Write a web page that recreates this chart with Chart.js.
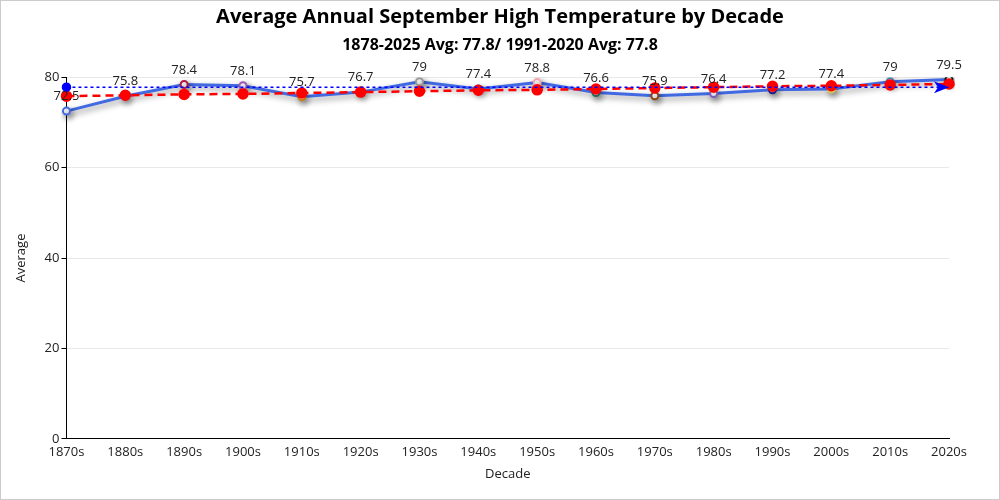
<!DOCTYPE html>
<html>
<head>
<meta charset="utf-8">
<script src="https://cdn.jsdelivr.net/npm/chart.js@4"></script>
<style>
html,body{margin:0;padding:0;background:#fff;}
#wrap{position:absolute;left:0;top:0;width:998px;height:498px;border:1px solid #ccc;}
canvas{display:block;}
</style>
</head>
<body>
<div id="wrap"><canvas id="c" width="998" height="498"></canvas></div>
<script>
const decades = ['1870s','1880s','1890s','1900s','1910s','1920s','1930s','1940s','1950s','1960s','1970s','1980s','1990s','2000s','2010s','2020s'];
const averages = [72.5, 75.8, 78.4, 78.1, 75.7, 76.7, 79, 77.4, 78.8, 76.6, 75.9, 76.4, 77.2, 77.4, 79, 79.5];
const trendValues = [75.8, 76.0, 76.2, 76.3, 76.5, 76.7, 76.9, 77.1, 77.2, 77.4, 77.6, 77.8, 78.0, 78.1, 78.3, 78.5];
const longTermAvg = [77.8, 77.8, 77.8, 77.8, 77.8, 77.8, 77.8, 77.8, 77.8, 77.8, 77.8, 77.8, 77.8, 77.8, 77.8, 77.8];
const pointColors = ['#4169e1','#2e8b57','#b0183d','#9b59b6','#cc7a00','#556b2f','#999999','#2aa198','#f4a6b0','#1d6b5a','#8b4513','#7b5cc4','#1a1a8c','#d4c94a','#4682b4','#111111'];
const yTicks = [0, 20, 40, 60, 80];

const FONT = "'Open Sans','Noto Sans',sans-serif";

const shadowPlugin = {
  id: 'shadow',
  beforeDatasetDraw(chart, args) {
    if (args.index === 0) {
      const ctx = chart.ctx;
      ctx.save();
      ctx.shadowColor = 'rgba(0,0,0,0.45)';
      ctx.shadowBlur = 6;
      ctx.shadowOffsetX = 2;
      ctx.shadowOffsetY = 3;
    }
  },
  afterDatasetDraw(chart, args) {
    if (args.index === 0) chart.ctx.restore();
  }
};

const labelPlugin = {
  id: 'labels',
  afterDatasetsDraw(chart) {
    const ctx = chart.ctx;
    const am = chart.getDatasetMeta(2).data;
    const last = am[am.length - 1];
    ctx.save();
    ctx.fillStyle = '#0000ff';
    ctx.beginPath();
    ctx.moveTo(last.x, last.y);
    ctx.lineTo(last.x - 15, last.y - 6);
    ctx.lineTo(last.x - 11, last.y);
    ctx.lineTo(last.x - 15, last.y + 6);
    ctx.closePath();
    ctx.fill();
    ctx.restore();

    const meta = chart.getDatasetMeta(0);
    ctx.save();
    ctx.font = "13px " + FONT;
    ctx.fillStyle = '#222';
    ctx.textAlign = 'center';
    ctx.textBaseline = 'bottom';
    meta.data.forEach((pt, i) => {
      ctx.fillText(String(averages[i]), pt.x, pt.y - 8);
    });
    ctx.restore();
  }
};

const avgRadius = longTermAvg.map((v, i) => i === 0 ? 4 : 0);

new Chart(document.getElementById('c'), {
  type: 'line',
  data: {
    labels: decades,
    datasets: [
      {
        label: 'Average',
        data: averages,
        borderColor: '#4169e1',
        borderWidth: 3,
        pointBackgroundColor: '#ffffff',
        pointBorderColor: pointColors,
        pointBorderWidth: 2,
        pointRadius: 3.5,
        tension: 0,
        order: 3
      },
      {
        label: 'Trend',
        data: trendValues,
        borderColor: '#ff0000',
        borderWidth: 2.5,
        borderDash: [8, 5],
        pointBackgroundColor: '#ff0000',
        pointBorderColor: '#ff0000',
        pointRadius: 4.5,
        tension: 0,
        order: 2
      },
      {
        label: 'Long-term Avg',
        data: longTermAvg,
        borderColor: '#0000ff',
        borderWidth: 1.5,
        borderDash: [3, 3],
        pointRadius: avgRadius,
        pointBackgroundColor: '#0000ff',
        pointBorderColor: '#0000ff',
        tension: 0,
        order: 1
      }
    ]
  },
  options: {
    responsive: false,
    animation: false,
    layout: { padding: { left: 8, right: 8, top: 0, bottom: 13 } },
    plugins: {
      legend: { display: false },
      tooltip: { enabled: false },
      title: {
        display: true,
        text: 'Average Annual September High Temperature by Decade',
        font: { family: FONT, size: 20, weight: 'bold' },
        color: '#000',
        padding: { top: 4, bottom: 4 }
      },
      subtitle: {
        display: true,
        text: '1878-2025 Avg: 77.8/ 1991-2020 Avg: 77.8',
        font: { family: FONT, size: 16, weight: 'bold' },
        color: '#000',
        padding: { top: 3, bottom: 22 }
      }
    },
    scales: {
      x: {
        offset: false,
        grid: { display: false, drawTicks: true, tickLength: 4 },
        border: { color: '#000', width: 1 },
        ticks: { color: '#222', font: { family: FONT, size: 13 }, maxRotation: 0, autoSkip: false, padding: 2 },
        title: { display: true, text: 'Decade', color: '#222', font: { family: FONT, size: 13 }, padding: { top: 4 } }
      },
      y: {
        min: 0,
        max: 80,
        afterBuildTicks(axis) { axis.ticks = yTicks.map(v => ({ value: v })); },
        grid: { color: '#e8e8e8', tickColor: '#000', tickLength: 5 },
        border: { color: '#000', width: 1 },
        ticks: { color: '#222', font: { family: FONT, size: 13 }, padding: 2 },
        title: { display: true, text: 'Average', color: '#222', font: { family: FONT, size: 13 }, padding: { bottom: 14 } }
      },
      yRight: {
        position: 'right',
        display: true,
        min: 0,
        max: 80,
        grid: { display: false, drawTicks: false },
        border: { display: false },
        ticks: { display: false },
        afterFit(axis) { axis.width = 42; }
      }
    }
  },
  plugins: [shadowPlugin, labelPlugin]
});
</script>
</body>
</html>
